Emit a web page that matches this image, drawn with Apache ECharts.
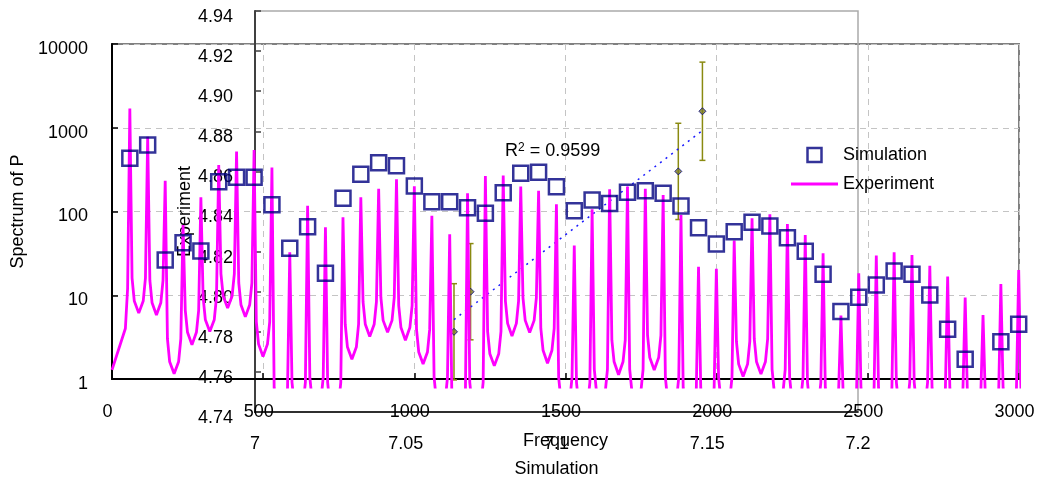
<!DOCTYPE html>
<html>
<head>
<meta charset="utf-8">
<script src="https://cdn.jsdelivr.net/npm/echarts@6/dist/echarts.min.js"></script>
<style>
  html, body { margin: 0; padding: 0; background: #fff; }
  #chart { width: 1042px; height: 483px; }
</style>
</head>
<body>
<div id="chart"></div>
<script>
// harmonic frequencies (Hz), shared by simulation squares and experiment peaks
const harmonicFreq = [59, 118, 176, 235, 294, 353, 412, 470, 529, 588, 647, 706, 764, 823, 882, 941, 1000,
  1058, 1117, 1176, 1235, 1294, 1352, 1411, 1470, 1529, 1588, 1646, 1705, 1764, 1823, 1882, 1940, 1999,
  2058, 2117, 2176, 2234, 2293, 2352, 2411, 2470, 2528, 2587, 2646, 2705, 2764, 2822, 2881, 2940, 2999];

const simSpectrum = [432, 622, 26.4, 42.4, 33.7, 227, 256, 256, 120, 36.3, 65.9, 18.3, 144, 278, 383, 352, 202,
  131, 131, 111, 95.2, 168, 286, 294, 198, 102, 137, 125, 170, 177, 165, 116, 64.1, 40.9,
  57.4, 74.3, 67.1, 48.7, 33.5, 17.8, 6.4, 9.45, 13.3, 19.5, 17.8, 10.1, 3.92, 1.72, null, 2.79, 4.5];

// experiment: peak height at each harmonic
const expPeak = [1700, 780, 233, 69, 148, 359, 518, 542, 334, 32.6, 117, 64.7, 85.3, 148, 186, 242, 200,
  89, 53.4, 165, 265, 268, 198, 176, 122, 39.1, 106, 184, 198, 186, 157, 90.8, 21.9, 20.6,
  44.8, 83, 92.6, 71, 52.4, 31.7, 5.7, 18.3, 29.7, 32.6, 30.2, 22.4, 16.7, 9.35, 5.8, 13.6, 20];
// experiment: level in the valley after each peak (index 0 = value at 0 Hz)
const expTrough = [1.28, 6.1, 5.8, 1.15, 2.55, 3.67, 7.0, 5.5, 1.85, 0.3, 0.35, 0.4, 0.35, 1.72, 3.2, 3.6, 2.9,
  1.51, 0.4, 0.2, 0.35, 1.43, 3.26, 3.57, 1.54, 0.4, 0.35, 0.5, 1.12, 0.5, 1.28, 0.4, 0.3, 0.3, 0.4,
  1.07, 1.14, 0.5, 0.4, 0.35, 0.3, 0.25, 0.3, 0.3, 0.35, 0.35, 0.3, 0.3, 0.25, 0.25, 0.3, 0.3];
// level a quarter period away from a peak, per valley
const expQuarter = [4, 8.5, 8.1, 1.6, 3.6, 5.1, 9.8, 7.7, 2.6, 0.42, 0.49, 0.56, 0.49, 2.4, 4.5, 5.0, 4.1,
  2.1, 0.56, 0.28, 0.49, 2.0, 4.6, 5.0, 2.2, 0.56, 0.49, 0.7, 1.6, 0.7, 1.8, 0.56, 0.42, 0.42, 0.56,
  1.5, 1.6, 0.7, 0.56, 0.49, 0.42, 0.35, 0.42, 0.42, 0.49, 0.49, 0.42, 0.42, 0.35, 0.35, 0.42, 0.42];
// level an eighth period away from a peak, per valley
const expNear = [12, 16, 15, 3.0, 6.6, 9.5, 18, 14, 4.8, 0.78, 0.91, 1.04, 0.91, 4.5, 8.3, 9.4, 7.5,
  3.9, 1.04, 0.52, 0.91, 3.7, 8.5, 9.3, 4.0, 1.04, 0.91, 1.3, 2.9, 1.3, 3.3, 1.04, 0.78, 0.78, 1.04,
  2.8, 3.0, 1.3, 1.04, 0.91, 0.78, 0.65, 0.78, 0.78, 0.91, 0.91, 0.78, 0.78, 0.65, 0.65, 0.78, 0.78];

// inset: Simulation vs Experiment with error bars
const insetSim = [7.066, 7.0715, 7.1404, 7.1484];
const insetExp = [4.780, 4.800, 4.860, 4.890];
const insetErr = [0.024, 0.024, 0.024, 0.0245];

const FONT = "'Liberation Sans', Arial, sans-serif";

function buildExperiment() {
  const f = harmonicFreq;
  const n = f.length;
  const g0 = f[1] - f[0];
  const pts = [[0, expTrough[0]], [f[0] - g0 / 4, expQuarter[0]], [f[0] - g0 / 8, expNear[0]]];
  for (let k = 0; k < n; k++) {
    const g = k < n - 1 ? f[k + 1] - f[k] : f[k] - f[k - 1];
    pts.push([f[k], expPeak[k]]);
    pts.push([f[k] + g / 8, expNear[k + 1]]);
    pts.push([f[k] + g / 4, expQuarter[k + 1]]);
    pts.push([f[k] + g / 2, expTrough[k + 1]]);
    if (k < n - 1) {
      pts.push([f[k] + 3 * g / 4, expQuarter[k + 1]]);
      pts.push([f[k] + 7 * g / 8, expNear[k + 1]]);
    }
  }
  return pts;
}

function trendLine(xs, ys) {
  const n = xs.length;
  const mx = xs.reduce((a, b) => a + b, 0) / n;
  const my = ys.reduce((a, b) => a + b, 0) / n;
  let sxy = 0, sxx = 0;
  for (let i = 0; i < n; i++) {
    sxy += (xs[i] - mx) * (ys[i] - my);
    sxx += (xs[i] - mx) ** 2;
  }
  const slope = sxy / sxx;
  const x0 = Math.min(...xs), x1 = Math.max(...xs);
  return [[x0, my + slope * (x0 - mx)], [x1, my + slope * (x1 - mx)]];
}

const chart = echarts.init(document.getElementById("chart"));

const dashed = { color: "#c4c4c4", type: [6, 5], width: 1 };
const labelBase = { color: "#000", fontSize: 18, fontFamily: FONT };

chart.setOption({
  animation: false,
  backgroundColor: "#fff",
  textStyle: { fontFamily: FONT },
  grid: [
    { left: 112, right: 23, top: 44, bottom: 104, show: true, borderColor: "#808080", borderWidth: 2, backgroundColor: "transparent" },
    { left: 255, right: 184, top: 11, bottom: 70, show: true, borderColor: "#aaaaaa", borderWidth: 1.5, backgroundColor: "transparent" },
    { left: 112, right: 23, top: 44, bottom: 96, show: false },
  ],
  legend: {
    orient: "vertical",
    left: 786,
    top: 141,
    itemWidth: 47,
    itemHeight: 14,
    itemGap: 11,
    textStyle: { color: "#000", fontSize: 18, fontFamily: FONT, lineHeight: 18 },
    data: [
      {
        name: "Simulation",
        icon: "path://M0,0L10,0L10,10L0,10Z",
        itemStyle: { color: "rgba(255,255,255,0)", borderColor: "#000080", borderWidth: 2.5 },
      },
      {
        name: "Experiment",
        icon: "path://M0,0L40,0L40,2.6L0,2.6Z",
        itemStyle: { color: "#ff00ff", borderWidth: 0 },
      },
    ],
  },
  xAxis: [
    {
      gridIndex: 0, type: "value", min: 0, max: 3000, interval: 500,
      name: "Frequency", nameLocation: "middle", nameGap: 53,
      nameTextStyle: labelBase,
      axisLine: { onZero: false, lineStyle: { color: "#000", width: 2 } },
      axisTick: { inside: true, length: 6, lineStyle: { color: "#000", width: 1.5 } },
      axisLabel: Object.assign({ margin: 24, padding: [0, 9, 0, 0], formatter: (v) => String(Math.round(v)) }, labelBase),
      splitLine: { show: true, lineStyle: dashed },
    },
    {
      gridIndex: 1, type: "value", min: 7, max: 7.2, interval: 0.05,
      name: "Simulation", nameLocation: "middle", nameGap: 48,
      nameTextStyle: labelBase,
      axisLine: { onZero: false, lineStyle: { color: "#000", width: 1.5 } },
      axisTick: { show: false },
      axisLabel: Object.assign({ margin: 23, formatter: (v) => String(+v.toFixed(2)) }, labelBase),
      splitLine: { show: false },
    },
    { gridIndex: 2, type: "value", min: 0, max: 3000, show: false },
  ],
  yAxis: [
    {
      gridIndex: 0, type: "log", logBase: 10, min: 1, max: 10000,
      name: "Spectrum of P", nameLocation: "middle", nameGap: 85,
      nameTextStyle: labelBase,
      axisLine: { onZero: false, lineStyle: { color: "#000", width: 2 } },
      axisTick: { inside: true, length: 6, lineStyle: { color: "#000", width: 1.5 } },
      minorTick: { show: false },
      axisLabel: Object.assign({ margin: 24, verticalAlign: "top", lineHeight: 10, formatter: (v) => String(Math.round(v)) }, labelBase),
      splitLine: { show: true, lineStyle: dashed },
    },
    {
      gridIndex: 1, type: "value", min: 4.74, max: 4.94, interval: 0.02,
      name: "Experiment", nameLocation: "middle", nameGap: 61, nameMoveOverlap: false,
      nameTextStyle: labelBase,
      axisLine: { onZero: false, lineStyle: { color: "#404040", width: 2 } },
      axisTick: { inside: true, length: 6, lineStyle: { color: "#404040", width: 1.5 } },
      axisLabel: Object.assign({ margin: 22, verticalAlign: "top", lineHeight: 12, formatter: (v) => v.toFixed(2) }, labelBase),
      splitLine: { show: false },
    },
    { gridIndex: 2, type: "log", logBase: 10, min: 0.8, max: 10000, show: false },
  ],
  graphic: [
    {
      type: "text", left: 505, top: 142, z: 10,
      style: {
        text: "{r|R}{s|2}{r| = 0.9599}",
        fill: "#000",
        rich: {
          r: { fontSize: 18, fontFamily: FONT, fill: "#000" },
          s: { fontSize: 12, fontFamily: FONT, fill: "#000", verticalAlign: "top" },
        },
      },
    },
  ],
  series: [
    {
      name: "insetErrors",
      type: "custom",
      xAxisIndex: 1, yAxisIndex: 1,
      z: 2,
      data: insetSim.map((x, i) => [x, insetExp[i] - insetErr[i], insetExp[i] + insetErr[i]]),
      renderItem: (params, api) => {
        const top = api.coord([api.value(0), api.value(2)]);
        const bot = api.coord([api.value(0), api.value(1)]);
        const st = { stroke: "#8a8a10", lineWidth: 1.5 };
        return {
          type: "group",
          children: [
            { type: "line", shape: { x1: top[0], y1: top[1], x2: bot[0], y2: bot[1] }, style: st },
            { type: "line", shape: { x1: top[0] - 3, y1: top[1], x2: top[0] + 3, y2: top[1] }, style: st },
            { type: "line", shape: { x1: bot[0] - 3, y1: bot[1], x2: bot[0] + 3, y2: bot[1] }, style: st },
          ],
        };
      },
    },
    {
      name: "insetTrend",
      type: "line",
      xAxisIndex: 1, yAxisIndex: 1,
      z: 2,
      symbol: "none",
      data: trendLine(insetSim, insetExp),
      lineStyle: { color: "#1a1aff", width: 1.5, type: [2, 5] },
    },
    {
      name: "insetPoints",
      type: "scatter",
      xAxisIndex: 1, yAxisIndex: 1,
      z: 3,
      symbol: "diamond",
      symbolSize: 7,
      data: insetSim.map((x, i) => [x, insetExp[i]]),
      itemStyle: { color: "#7a7a20", borderColor: "#000080", borderWidth: 1 },
    },
    {
      name: "Experiment",
      type: "line",
      xAxisIndex: 2, yAxisIndex: 2,
      z: 4,
      symbol: "none",
      data: buildExperiment(),
      lineStyle: { color: "#ff00ff", width: 2.8 },
      itemStyle: { color: "#ff00ff" },
    },
    {
      name: "Simulation",
      type: "scatter",
      xAxisIndex: 0, yAxisIndex: 0,
      z: 6,
      symbol: "rect",
      symbolSize: 15,
      data: harmonicFreq.map((f, i) => [f, simSpectrum[i]]).filter((d) => d[1] != null),
      itemStyle: { color: "rgba(255,255,255,0)", borderColor: "#000080", borderWidth: 2.5 },
    },
  ],
});
</script>
</body>
</html>
